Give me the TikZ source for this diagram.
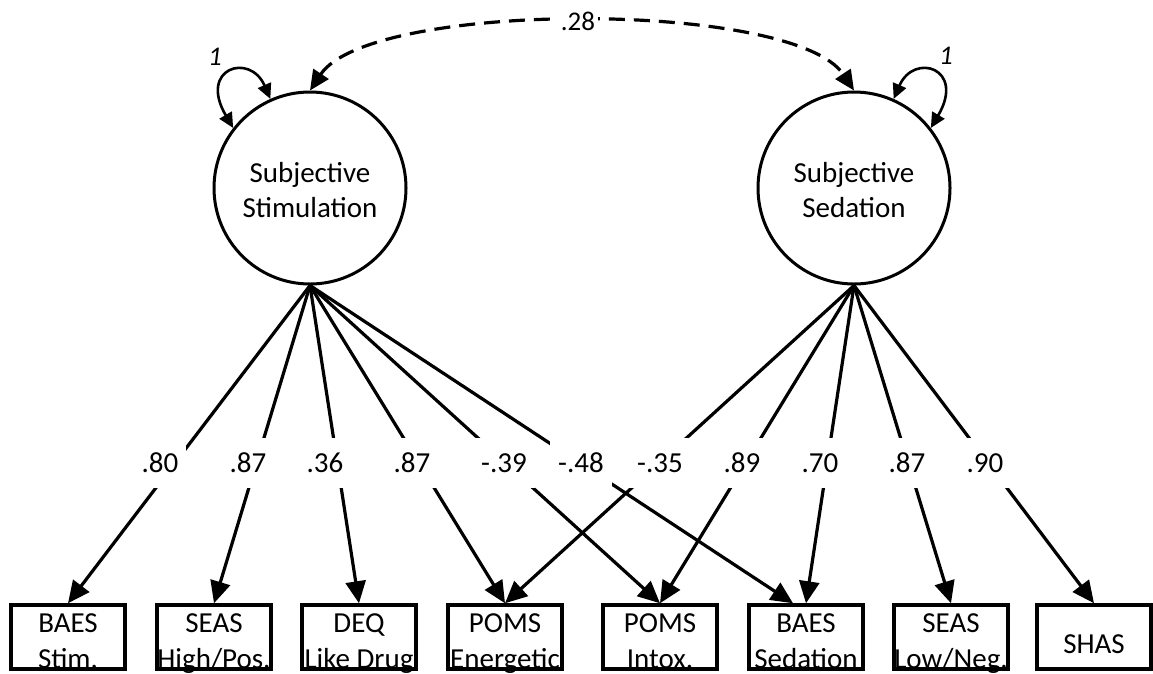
\documentclass[tikz,border=0pt]{standalone}
\usepackage{fontspec}
\setmainfont{Carlito}
\usetikzlibrary{arrows.meta}
\newcommand{\mylines}[2]{\begin{tabular}[t]{@{}c@{}}#1\\#2\end{tabular}}
\begin{document}
\begin{tikzpicture}[x=1pt,y=1pt,
  lat/.style={circle,draw,line width=3pt,minimum size=192pt,inner sep=0pt,
    font=\fontsize{29}{35}\selectfont,text height=20pt,text depth=32pt},
  obs/.style={rectangle,draw,line width=3.5pt,minimum width=114pt,minimum height=64pt,
    inner sep=0pt,font=\fontsize{29}{36}\selectfont,text height=20pt,text depth=30pt},
  load/.style={line width=3.2pt,-{Triangle[length=22pt,width=20pt]}},
  coef/.style={fill=white,inner xsep=8pt,inner ysep=0pt,minimum height=50pt,
    font=\fontsize{29}{35}\selectfont},
  var/.style={line width=2.6pt,{Triangle[length=15pt,width=14pt]}-{Triangle[length=15pt,width=14pt]}},
  cov/.style={line width=3.2pt,dash pattern=on 16pt off 9pt,
    {Triangle[length=20pt,width=18pt]}-{Triangle[length=20pt,width=18pt]}},
  vlab/.style={inner sep=0pt,font=\itshape\fontsize{27}{30}\selectfont},
]
\useasboundingbox (0,0) rectangle (1153,-673);

% latent variables
\node[lat] (L) at (310,-188) {\mylines{Subjective}{Stimulation}};
\node[lat] (R) at (854,-188) {\mylines{Subjective}{Sedation}};

% observed variables
\node[obs] (b1) at (68,-637)   {\mylines{BAES}{Stim.}};
\node[obs] (b2) at (214,-637)  {\mylines{SEAS}{High/Pos.}};
\node[obs] (b3) at (359,-637)  {\mylines{DEQ}{Like Drug}};
\node[obs] (b4) at (505,-637)  {\mylines{POMS}{Energetic}};
\node[obs] (b5) at (660,-637)  {\mylines{POMS}{Intox.}};
\node[obs] (b6) at (806,-637)  {\mylines{BAES}{Sedation}};
\node[obs] (b7) at (951,-637)  {\mylines{SEAS}{Low/Neg.}};
\node[obs,text height=32pt,text depth=0pt] (b8) at (1094,-637) {SHAS};

% loadings
\draw[load] (L.south) -- (b1.north);
\draw[load] (L.south) -- (b2.north);
\draw[load] (L.south) -- (b3.north);
\draw[load] (L.south) -- (b4.north);
\draw[load] (L.south) -- (b5.north);
\draw[load] (L.south) -- ([xshift=-13pt]b6.north);
\draw[load] (R.south) -- (b4.north);
\draw[load] (R.south) -- (b5.north);
\draw[load] (R.south) -- (b6.north);
\draw[load] (R.south) -- (b7.north);
\draw[load] (R.south) -- (b8.north);

% coefficients
\node[coef] (c1)  at (160,-463) {.80};
\node[coef] (c2)  at (248,-463) {.87};
\node[coef] (c3)  at (325,-463) {.36};
\node[coef] (c4)  at (412,-463) {.87};
\node[coef] (c5)  at (504,-463) {-.39};
\node[coef] (c6)  at (581,-463) {-.48};
\node[coef] (c7)  at (660,-463) {-.35};
\node[coef] (c8)  at (742,-463) {.89};
\node[coef] (c9)  at (820,-463) {.70};
\node[coef] (c10) at (907,-463) {.87};
\node[coef] (c11) at (985,-463) {.90};

% covariance
\draw[cov] (L.north) .. controls (370,0) and (794,0) .. (R.north);
\node[fill=white,inner sep=3pt,font=\fontsize{27}{30}\selectfont] (k) at (578,-21) {.28};

% variances
\draw[var] (L.142) .. controls (198,-68) and (250,-52) .. (L.114);
\draw[var] (R.38) .. controls (966,-68) and (914,-52) .. (R.66);
\node[vlab] (v1) at (215,-57) {1};
\node[vlab] (v2) at (946,-56) {1};
\end{tikzpicture}
\end{document}
